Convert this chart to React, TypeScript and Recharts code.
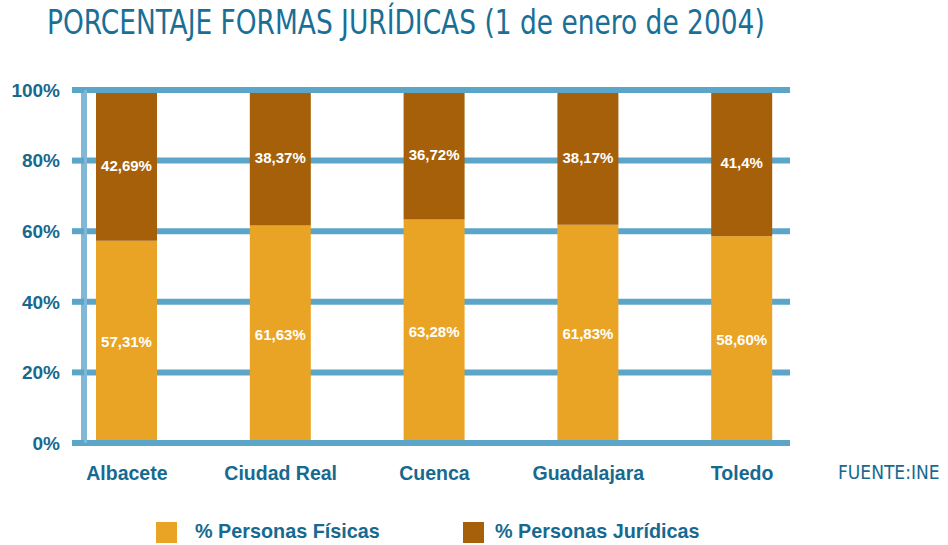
import React from 'react';
import { BarChart, Bar, XAxis, YAxis, CartesianGrid, LabelList, ReferenceLine } from 'recharts';

const provincias = ['Albacete', 'Ciudad Real', 'Cuenca', 'Guadalajara', 'Toledo'];
const fisicas = [57.31, 61.63, 63.28, 61.83, 58.6];
const juridicas = [42.69, 38.37, 36.72, 38.17, 41.4];
const fisicasLabels = ['57,31%', '61,63%', '63,28%', '61,83%', '58,60%'];
const juridicasLabels = ['42,69%', '38,37%', '36,72%', '38,17%', '41,4%'];
const yTicks = [0, 20, 40, 60, 80, 100];
const seriesNames = ['% Personas Físicas', '% Personas Jurídicas'];

const ORANGE = '#EAA425';
const BROWN = '#A6600A';
const GRID = '#5BA5C8';
const AXIS_V = '#80B8D6';
const TEXT = '#17698F';
const SANS = 'Liberation Sans, Arial, sans-serif';

const data = provincias.map((p, i) => ({
  name: p,
  fisicas: fisicas[i],
  juridicas: juridicas[i],
  fl: fisicasLabels[i],
  jl: juridicasLabels[i],
}));

export default function App() {
  return (
    <div style={{ position: 'absolute', left: 0, top: 0, width: 948, height: 545, background: '#fff', fontFamily: SANS }}>
      <div style={{ position: 'absolute', left: 47, top: 2, fontFamily: '"DejaVu Sans Condensed", sans-serif', fontStretch: 'condensed', fontSize: 34, color: '#1A6F96', whiteSpace: 'nowrap', transformOrigin: 'left top', transform: 'scaleX(0.865)' }}>
        PORCENTAJE FORMAS JURÍDICAS (1 de enero de 2004)
      </div>
      <BarChart
        width={948}
        height={545}
        data={data}
        margin={{ top: 90, right: 158, bottom: 72, left: 0 }}
        style={{ position: 'absolute', left: 0, top: 0 }}
      >
        <CartesianGrid vertical={false} stroke={GRID} strokeWidth={6} />
        <XAxis
          dataKey="name"
          height={30}
          padding={{ left: -34, right: -29 }}
          axisLine={{ stroke: GRID, strokeWidth: 6 }}
          tickLine={false}
          tickSize={0}
          tickMargin={23}
          interval={0}
          tick={{ fill: TEXT, fontSize: 19.5, fontWeight: 'bold', fontFamily: SANS }}
        />
        <YAxis
          width={84}
          domain={[0, 100]}
          ticks={yTicks}
          tickFormatter={(v: number) => `${v}%`}
          axisLine={{ stroke: AXIS_V, strokeWidth: 6 }}
          tickLine={{ stroke: GRID, strokeWidth: 6 }}
          tickSize={12}
          tickMargin={12}
          tick={{ fill: TEXT, fontSize: 19, fontWeight: 'bold', fontFamily: SANS }}
        />
        <Bar dataKey="fisicas" stackId="a" fill={ORANGE} barSize={61} isAnimationActive={false}>
          <LabelList dataKey="fl" position="center" fill="#fff" fontSize={15} fontWeight="bold" fontFamily={SANS} />
        </Bar>
        <Bar dataKey="juridicas" stackId="a" fill={BROWN} barSize={61} isAnimationActive={false}>
          <LabelList dataKey="jl" position="center" fill="#fff" fontSize={15} fontWeight="bold" fontFamily={SANS} />
        </Bar>
        <ReferenceLine y={100} stroke={GRID} strokeWidth={6} />
      </BarChart>
      <div style={{ position: 'absolute', left: 838, top: 461, fontFamily: '"DejaVu Sans Condensed", sans-serif', fontSize: 19, color: TEXT }}>
        FUENTE:INE
      </div>
      <div style={{ position: 'absolute', left: 156, top: 522, width: 21, height: 21, background: ORANGE }} />
      <div style={{ position: 'absolute', left: 195, top: 520, fontSize: 19.8, fontWeight: 'bold', color: TEXT, whiteSpace: 'nowrap' }}>
        {seriesNames[0]}
      </div>
      <div style={{ position: 'absolute', left: 463, top: 522, width: 21, height: 21, background: BROWN }} />
      <div style={{ position: 'absolute', left: 495, top: 520, fontSize: 19.8, fontWeight: 'bold', color: TEXT, whiteSpace: 'nowrap' }}>
        {seriesNames[1]}
      </div>
    </div>
  );
}
